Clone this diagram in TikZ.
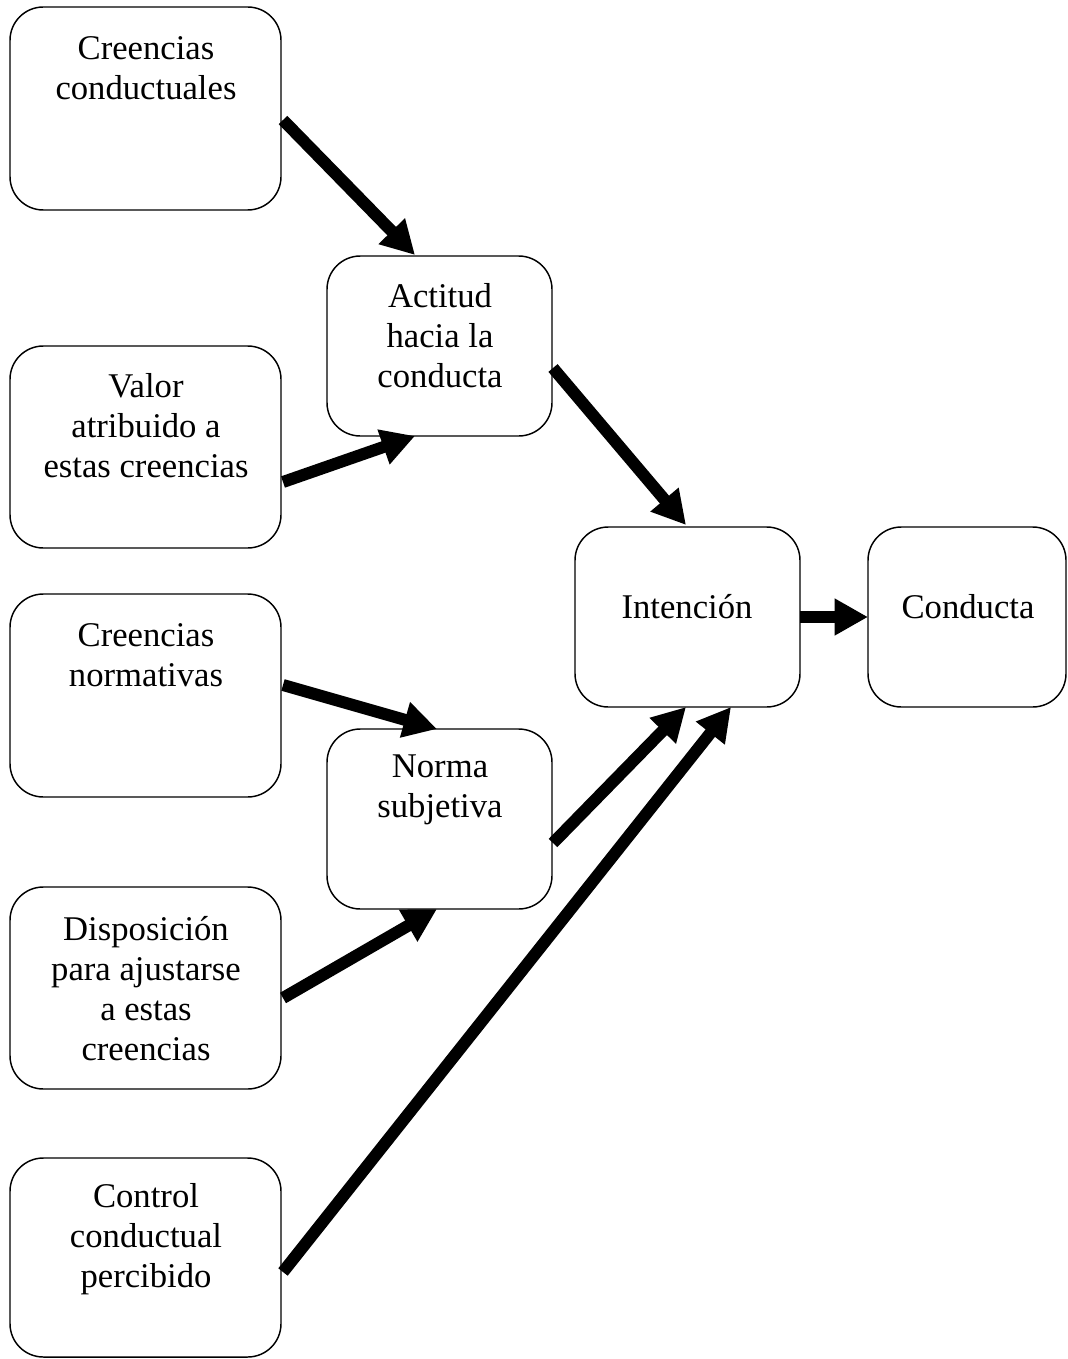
\documentclass[tikz,border=0pt]{standalone}
\usepackage{fontspec}
\setmainfont{Liberation Serif}
\usetikzlibrary{arrows.meta,calc}
\begin{document}
\begin{tikzpicture}[x=0.75pt,y=-0.75pt,
  box/.style={draw=black,line width=1.1pt,rounded corners=25pt,inner sep=0pt,outer sep=0pt},
  txt/.style={align=center,font=\fontsize{26}{30}\selectfont,inner sep=0pt},
  arr/.style={line width=9pt,-{Triangle[length=25pt,width=26pt]}}]
\useasboundingbox (0,0) rectangle (1067,1359);
% boxes
\node[box,minimum width=271*0.75pt,minimum height=203*0.75pt] (A) at (145.5,108.5) {};
\node[box,minimum width=271*0.75pt,minimum height=202*0.75pt] (B) at (145.5,447) {};
\node[box,minimum width=271*0.75pt,minimum height=203*0.75pt] (C) at (145.5,695.5) {};
\node[box,minimum width=271*0.75pt,minimum height=202*0.75pt] (D) at (145.5,988) {};
\node[box,minimum width=271*0.75pt,minimum height=199*0.75pt] (E) at (145.5,1257.5) {};
\node[box,minimum width=225*0.75pt,minimum height=180*0.75pt] (F) at (439.5,346) {};
\node[box,minimum width=225*0.75pt,minimum height=180*0.75pt] (G) at (439.5,819) {};
\node[box,minimum width=225*0.75pt,minimum height=180*0.75pt] (H) at (687.5,617) {};
\node[box,minimum width=198*0.75pt,minimum height=180*0.75pt] (I) at (967,617) {};
% texts
\node[txt] (At) at (146,68) {Creencias\\conductuales};
\node[txt] (Bt) at (146,426) {Valor\\atribuido a\\estas creencias};
\node[txt] (Ct) at (146,655) {Creencias\\normativas};
\node[txt] (Dt) at (146,989) {Disposición\\para ajustarse\\a estas\\creencias};
\node[txt] (Et) at (146,1239) {Control\\conductual\\percibido};
\node[txt] (Ft) at (440,336) {Actitud\\hacia la\\conducta};
\node[txt] (Gt) at (440,790) {Norma\\subjetiva};
\node[txt] (Ht) at (687,607) {Intención};
\node[txt] (It) at (968,607) {Conducta};
% arrows
\draw[arr] ($(A.north east)+(2,113)$) -- ($(F.north west)+(88,-1)$);
\draw[arr] ($(B.north east)+(2,136)$) -- ($(F.south west)+(88,0)$);
\draw[arr] ($(F.north east)+(1,112)$) -- ($(H.north west)+(111,-2)$);
\draw[arr] ($(C.north east)+(2,91)$) -- ($(G.north west)+(110,0)$);
\draw[arr] ($(D.north east)+(2,111)$) -- ($(G.south west)+(110,0)$);
\draw[arr] ($(G.north east)+(1,114)$) -- ($(H.south west)+(111,0)$);
\draw[arr] ($(E.north east)+(2,114)$) -- ($(H.south west)+(156,0)$);
\draw[arr] (H.east) -- (I.west);
\end{tikzpicture}
\end{document}
